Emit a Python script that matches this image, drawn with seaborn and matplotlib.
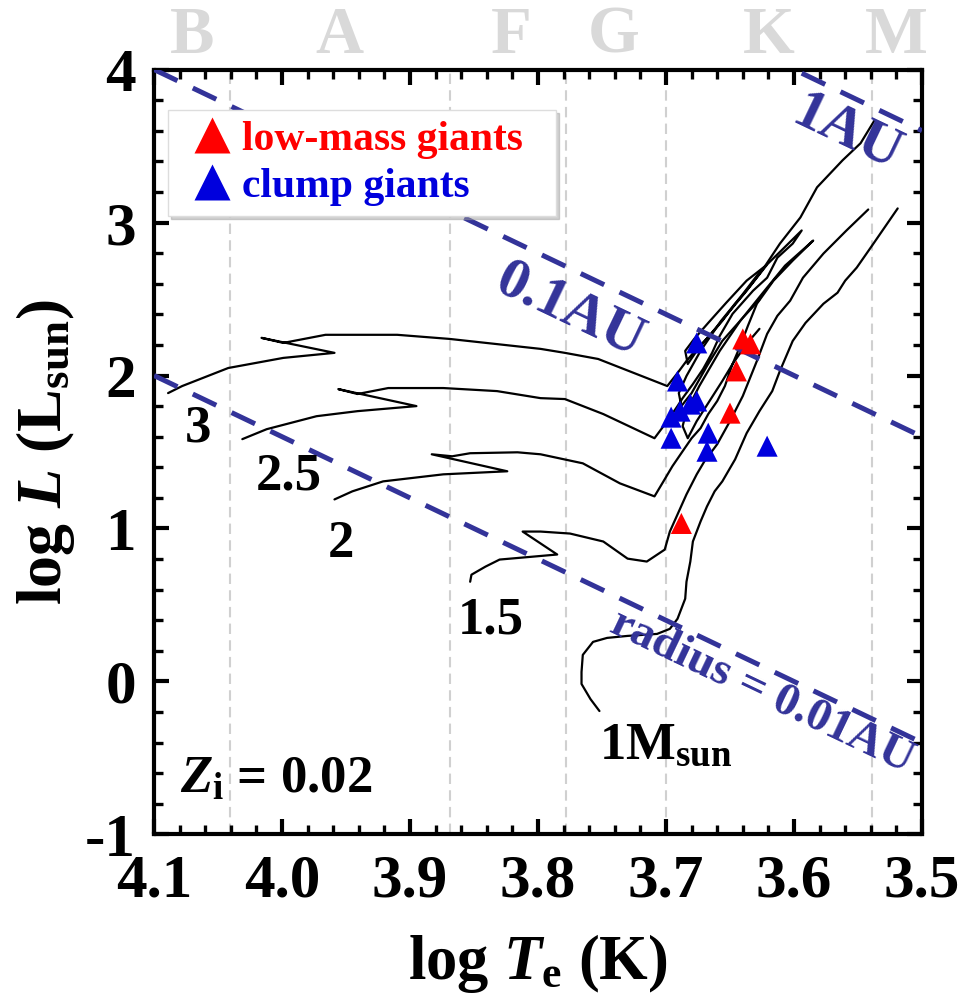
import numpy as np
import pandas as pd
import matplotlib
matplotlib.use("Agg")
import matplotlib.pyplot as plt
import seaborn as sns
from matplotlib.lines import Line2D
from matplotlib.ticker import MultipleLocator

# ---------------- data ----------------
# evolutionary tracks (log Te, log L)
track_1_T = [3.752, 3.759, 3.766, 3.766, 3.765, 3.757, 3.746, 3.730, 3.707, 3.697, 3.691, 3.685,
             3.684, 3.681, 3.679, 3.673, 3.668, 3.662, 3.656, 3.646, 3.637, 3.627, 3.617, 3.611,
             3.601, 3.591, 3.577, 3.566, 3.560, 3.551, 3.539, 3.519]
track_1_L = [-0.193, -0.115, -0.016, 0.062, 0.174, 0.259, 0.285, 0.298, 0.311, 0.344, 0.410, 0.541,
             0.652, 0.784, 0.915, 1.046, 1.144, 1.243, 1.308, 1.452, 1.623, 1.767, 1.898, 2.030,
             2.226, 2.344, 2.469, 2.541, 2.620, 2.705, 2.849, 3.092]

track_15_T = [3.853, 3.852, 3.841, 3.830, 3.804, 3.785, 3.812, 3.798, 3.775, 3.749, 3.730, 3.715,
              3.701, 3.697, 3.691, 3.684, 3.676, 3.670, 3.660, 3.650, 3.640, 3.629, 3.621, 3.613,
              3.603, 3.593, 3.577, 3.559, 3.542]
track_15_L = [0.652, 0.698, 0.751, 0.797, 0.816, 0.830, 0.980, 0.980, 0.967, 0.915, 0.803, 0.784,
              0.862, 0.980, 1.092, 1.223, 1.354, 1.439, 1.551, 1.702, 1.866, 2.095, 2.272, 2.390,
              2.489, 2.639, 2.797, 2.948, 3.085]

track_2_T = [3.959, 3.945, 3.921, 3.874, 3.824, 3.883, 3.867, 3.853, 3.816, 3.798, 3.765, 3.736,
             3.709, 3.702, 3.695, 3.687, 3.680, 3.673, 3.667, 3.660, 3.654, 3.648, 3.642, 3.636,
             3.629, 3.616, 3.601, 3.585,
             3.607, 3.623, 3.642, 3.658, 3.674, 3.684, 3.687, 3.683,
             3.676, 3.666, 3.656, 3.648, 3.637, 3.627]
track_2_L = [1.190, 1.243, 1.308, 1.354, 1.374, 1.485, 1.472, 1.492, 1.498, 1.485, 1.426, 1.295,
             1.210, 1.308, 1.407, 1.505, 1.590, 1.656, 1.748, 1.833, 1.931, 2.075, 2.193, 2.325,
             2.469, 2.620, 2.751, 2.882,
             2.718, 2.554, 2.357, 2.161, 1.931, 1.767, 1.669, 1.590,
             1.702, 1.833, 1.964, 2.075, 2.207, 2.305]

track_25_T = [4.031, 4.012, 3.973, 3.941, 3.895, 3.956, 3.941, 3.917, 3.874, 3.832, 3.798, 3.779,
              3.749, 3.709, 3.699, 3.691, 3.687, 3.679, 3.671, 3.664, 3.658, 3.648, 3.632, 3.621,
              3.613, 3.601, 3.594,
              3.610, 3.626, 3.641, 3.657, 3.673, 3.684, 3.690, 3.688,
              3.680, 3.668, 3.656, 3.640, 3.627]
track_25_L = [1.584, 1.649, 1.734, 1.767, 1.800, 1.911, 1.879, 1.918, 1.918, 1.898, 1.852, 1.846,
              1.748, 1.590, 1.702, 1.800, 1.852, 1.944, 2.043, 2.148, 2.259, 2.403, 2.554, 2.639,
              2.770, 2.862, 2.948,
              2.816, 2.685, 2.521, 2.357, 2.161, 1.997, 1.885, 1.800,
              1.885, 2.062, 2.226, 2.377, 2.495]

track_3_T = [4.089, 4.078, 4.042, 3.999, 3.959, 4.016, 3.999, 3.966, 3.910, 3.869, 3.798, 3.779,
             3.753, 3.699, 3.691, 3.684, 3.676, 3.666, 3.656, 3.646, 3.634, 3.621,
             3.637, 3.653, 3.667, 3.678, 3.685, 3.683,
             3.676, 3.663, 3.650, 3.637, 3.624, 3.611, 3.595, 3.582, 3.562, 3.548, 3.537]
track_3_L = [1.885, 1.931, 2.049, 2.115, 2.148, 2.246, 2.213, 2.266, 2.266, 2.239, 2.174, 2.148,
             2.108, 1.931, 2.016, 2.095, 2.174, 2.259, 2.357, 2.469, 2.587, 2.725,
             2.620, 2.475, 2.344, 2.239, 2.161, 2.075,
             2.161, 2.292, 2.423, 2.554, 2.698, 2.862, 3.033, 3.230, 3.407, 3.518, 3.669]

track_names = ["1", "1.5", "2", "2.5", "3"]

# observed giants
lowmass_T = [3.640, 3.634, 3.645, 3.650, 3.688]
lowmass_L = [2.239, 2.207, 2.030, 1.754, 1.033]
clump_T = [3.676, 3.691, 3.676, 3.681, 3.689, 3.696, 3.696, 3.667, 3.668, 3.621]
clump_L = [2.213, 1.964, 1.833, 1.813, 1.767, 1.728, 1.590, 1.623, 1.505, 1.538]
group_names = ["low-mass giants", "clump giants"]

# constant-radius lines: log L at the two ends of the log Te axis
radius_ends_T = [4.1, 3.5]
radius_001AU_L = [2.0, -0.4]
radius_01AU_L = [4.0, 1.6]
radius_1AU_L = [6.0, 3.6]

# spectral classes
spectral_bounds_T = [4.041, 3.869, 3.778, 3.700, 3.539]
spectral_letters = ["B", "A", "F", "G", "K", "M"]
spectral_centers_T = [4.070, 3.955, 3.821, 3.741, 3.620, 3.520]

x_ticks = [4.1, 4.0, 3.9, 3.8, 3.7, 3.6, 3.5]
x_tick_labels = ["4.1", "4.0", "3.9", "3.8", "3.7", "3.6", "3.5"]
y_ticks = [-1, 0, 1, 2, 3, 4]
y_tick_labels = ["-1", "0", "1", "2", "3", "4"]

# ---------------- style ----------------
sns.set_theme(style="white")
plt.rcParams.update({
    "font.family": ["Liberation Serif", "DejaVu Serif"],
    "font.weight": "bold",
    "axes.labelweight": "bold",
    "mathtext.fontset": "custom",
    "mathtext.rm": "Liberation Serif:bold",
    "mathtext.it": "Liberation Serif:italic:bold",
    "mathtext.bf": "Liberation Serif:bold",
    "axes.unicode_minus": False,
    "axes.edgecolor": "black",
    "text.color": "black",
    "axes.labelcolor": "black",
    "xtick.color": "black",
    "ytick.color": "black",
})

RED = "#ff0000"
BLUE = "#0000dd"
NAVY = "#333399"

fig = plt.figure(figsize=(9.61, 9.97), dpi=100)
ax = fig.add_axes([0.16025, 0.16299, 0.79917, 0.76730])

# spectral class boundaries
for t in spectral_bounds_T:
    ax.axvline(t, color="#d0d0d0", lw=1.5, ls=(0, (5, 3)), zorder=0)

# tracks
rows = []
for name, T, L in zip(track_names,
                      [track_1_T, track_15_T, track_2_T, track_25_T, track_3_T],
                      [track_1_L, track_15_L, track_2_L, track_25_L, track_3_L]):
    for i, (a, b) in enumerate(zip(T, L)):
        rows.append({"logT": a, "logL": b, "mass": name, "i": i})
tracks = pd.DataFrame(rows)
sns.lineplot(data=tracks, x="logT", y="logL", units="mass", estimator=None, sort=False,
             color="black", lw=1.6, ax=ax, zorder=2, legend=False)

# constant radius lines
for Ls in [radius_001AU_L, radius_01AU_L, radius_1AU_L]:
    ax.plot(radius_ends_T, Ls, color=NAVY, lw=3.6, dashes=(5.2, 3.4), zorder=3)

# giants
giants = pd.DataFrame({
    "logT": lowmass_T + clump_T,
    "logL": lowmass_L + clump_L,
    "group": [group_names[0]] * len(lowmass_T) + [group_names[1]] * len(clump_T),
})
sns.scatterplot(data=giants, x="logT", y="logL", hue="group",
                palette={group_names[0]: RED, group_names[1]: BLUE},
                marker="^", s=230, linewidth=0, ax=ax, zorder=5, legend=False)

# axes setup
ax.set_xlim(4.1, 3.5)
ax.set_ylim(-1, 4)
ax.set_xticks(x_ticks)
ax.set_xticklabels(x_tick_labels)
ax.set_yticks(y_ticks)
ax.set_yticklabels(y_tick_labels)
ax.xaxis.set_minor_locator(MultipleLocator(0.02))
ax.yaxis.set_minor_locator(MultipleLocator(0.2))
ax.tick_params(which="both", direction="in", top=True, right=True, bottom=True, left=True,
               color="black")
ax.tick_params(which="major", length=11, width=3, labelsize=44, labelcolor="black")
ax.tick_params(which="minor", length=6.5, width=2.4)
ax.tick_params(axis="x", which="major", pad=14)
ax.tick_params(axis="y", which="major", pad=13)
for sp in ax.spines.values():
    sp.set_linewidth(3)
    sp.set_color("black")

ax.set_xlabel(r"log $T_{\rm e}$ (K)", fontsize=45, fontweight="bold", labelpad=16)
ax.set_ylabel(r"log $L$ (L$_{\rm sun}$)", fontsize=46, fontweight="bold", labelpad=6)

# spectral letters
for t, s in zip(spectral_centers_T, spectral_letters):
    ax.text(t, 1.0216, s, transform=ax.get_xaxis_transform(), ha="center", va="baseline",
            fontsize=48, color="#d9d9d9", fontweight="bold", clip_on=False)

# mass labels
ax.text(4.066, 1.570, "3", fontsize=38, ha="center", va="baseline")
ax.text(3.995, 1.256, "2.5", fontsize=38, ha="center", va="baseline")
ax.text(3.954, 0.816, "2", fontsize=38, ha="center", va="baseline")
ax.text(3.837, 0.311, "1.5", fontsize=38, ha="center", va="baseline")
ax.text(3.752, -0.508, r"1M$_{\rm sun}$", fontsize=38, ha="left", va="baseline")

ax.text(0.034, 0.054, r"$Z_{\rm i}$ = 0.02", transform=ax.transAxes, fontsize=38,
        ha="left", va="baseline")

# radius labels
rot = -25.5
ax.text(3.775, 2.423, "0.1AU", fontsize=42, color=NAVY, rotation=rot, rotation_mode="anchor",
        ha="center", va="center")
ax.text(3.559, 3.584, "1AU", fontsize=42, color=NAVY, rotation=rot, rotation_mode="anchor",
        ha="center", va="center")
ax.text(3.625, -0.069, "radius = 0.01AU", fontsize=34, color=NAVY, rotation=rot,
        rotation_mode="anchor", ha="center", va="center")

# legend
handles = [Line2D([], [], marker="^", linestyle="None", markerfacecolor=c, markeredgecolor="none",
                  markersize=26) for c in (RED, BLUE)]
leg = ax.legend(handles, group_names, loc="upper left",
                bbox_to_anchor=(0.018, 0.0, 0.5052, 0.947), mode="expand",
                borderaxespad=0, frameon=True, fancybox=False,
                shadow={"color": "#9a9a9a", "alpha": 0.45}, fontsize=30,
                handlelength=1.6, handletextpad=-0.08, borderpad=0.25, labelspacing=0.22,
                edgecolor="#dddddd", framealpha=1)
leg.set_zorder(10)
leg.get_frame().set_linewidth(1.0)
for txt, c in zip(leg.get_texts(), (RED, BLUE)):
    txt.set_color(c)

fig.savefig("out.png", dpi=100)
